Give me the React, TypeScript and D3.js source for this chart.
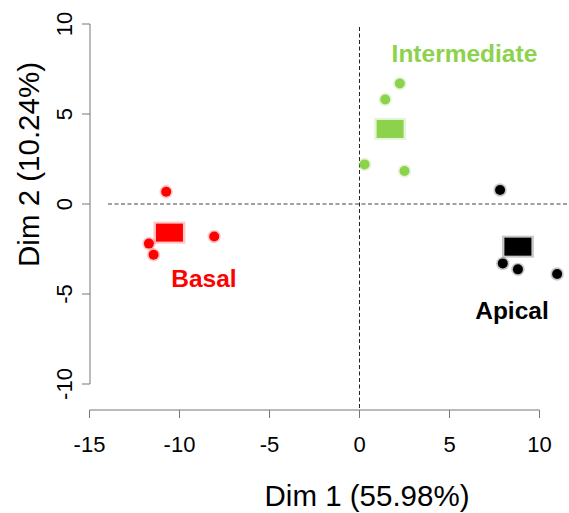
import React from "react";
import * as d3 from "d3";

const groups = ["Basal", "Intermediate", "Apical"];
const groupColors = ["#FF0000", "#8CD24C", "#000000"];

const basalX = [-10.74, -11.7, -11.44, -8.07];
const basalY = [0.68, -2.2, -2.82, -1.81];
const interX = [2.24, 1.43, 0.28, 2.5];
const interY = [6.69, 5.81, 2.2, 1.83];
const apicalX = [7.81, 7.96, 8.8, 10.98];
const apicalY = [0.78, -3.3, -3.63, -3.89];

const centroidX = [-10.56, 1.7, 8.8];
const centroidY = [-1.59, 4.17, -2.37];

const labelX = [-8.64, 5.83, 8.47];
const labelY = [-4.6, 7.89, -6.39];

const xTicks = [-15, -10, -5, 0, 5, 10];
const yTicks = [-10, -5, 0, 5, 10];

const xTitle = "Dim 1 (55.98%)";
const yTitle = "Dim 2 (10.24%)";

export default function App() {
  const W = 569;
  const H = 513;
  const x = d3.scaleLinear().domain([-15, 10]).range([89.5, 539.5]);
  const y = d3.scaleLinear().domain([-10, 10]).range([384, 24]);
  const font = "'Liberation Sans', Arial, sans-serif";
  const axisColor = "#777";
  const pts = [
    basalX.map((v, i) => [v, basalY[i]]),
    interX.map((v, i) => [v, interY[i]]),
    apicalX.map((v, i) => [v, apicalY[i]]),
  ];
  const axisY = 410;
  const axisX = 90;

  return (
    <svg
      width={W}
      height={H}
      style={{ position: "absolute", left: 0, top: 0, background: "#fff" }}
      fontFamily={font}
    >
      {/* dashed reference lines */}
      <line x1={108} x2={W} y1={y(0)} y2={y(0)} stroke="#444" strokeDasharray="4,2.5" />
      <line x1={x(0)} x2={x(0)} y1={27} y2={418} stroke="#222" strokeDasharray="4,2.5" />

      {/* x axis */}
      <line x1={x(-15)} x2={x(10)} y1={axisY} y2={axisY} stroke={axisColor} />
      {xTicks.map((t) => (
        <g key={"xt" + t}>
          <line x1={x(t)} x2={x(t)} y1={axisY} y2={axisY + 8} stroke={axisColor} />
          <text x={x(t)} y={451.5} fontSize={22} textAnchor="middle" fill="#000">
            {t}
          </text>
        </g>
      ))}
      {/* y axis */}
      <line x1={axisX} x2={axisX} y1={y(-10)} y2={y(10)} stroke={axisColor} />
      {yTicks.map((t) => (
        <g key={"yt" + t}>
          <line x1={axisX - 8} x2={axisX} y1={y(t)} y2={y(t)} stroke={axisColor} />
          <text
            transform={`translate(72,${y(t)}) rotate(-90)`}
            fontSize={22}
            textAnchor="middle"
            fill="#000"
          >
            {t}
          </text>
        </g>
      ))}

      {/* axis titles */}
      <text x={367} y={506} fontSize={29.5} textAnchor="middle" fill="#000">
        {xTitle}
      </text>
      <text
        transform={`translate(39,164.5) rotate(-90)`}
        fontSize={29.5}
        textAnchor="middle"
        fill="#000"
      >
        {yTitle}
      </text>

      {/* points */}
      {pts.map((arr, g) =>
        arr.map((p, i) => (
          <g key={`p${g}-${i}`}>
            <circle cx={x(p[0])} cy={y(p[1])} r={6.7} fill={groupColors[g]} opacity={0.22} />
            <circle cx={x(p[0])} cy={y(p[1])} r={5} fill={groupColors[g]} />
          </g>
        ))
      )}

      {/* centroids */}
      {groups.map((gname, g) => (
        <g key={"c" + gname}>
          <rect
            x={x(centroidX[g]) - 16}
            y={y(centroidY[g]) - 11}
            width={32}
            height={22}
            fill={groupColors[g]}
            opacity={0.22}
          />
          <rect
            x={x(centroidX[g]) - 13.5}
            y={y(centroidY[g]) - 9}
            width={27}
            height={18}
            fill={groupColors[g]}
          />
        </g>
      ))}

      {/* group labels */}
      {groups.map((gname, g) => (
        <text
          key={"l" + gname}
          x={x(labelX[g])}
          y={y(labelY[g])}
          fontSize={24.5}
          fontWeight="bold"
          textAnchor="middle"
          fill={groupColors[g]}
        >
          {gname}
        </text>
      ))}
    </svg>
  );
}
